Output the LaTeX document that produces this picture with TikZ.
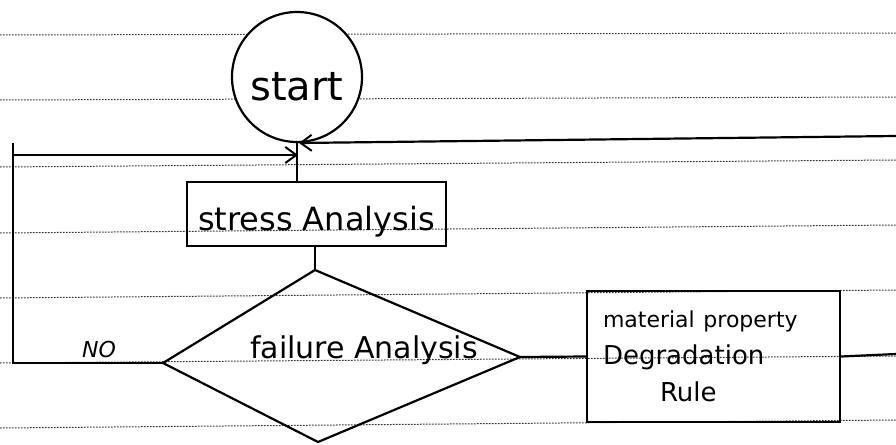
\documentclass[tikz,border=0pt]{standalone}
\usepackage{fontspec}
\setmainfont{DejaVu Sans}
\usetikzlibrary{arrows.meta}
\begin{document}
\begin{tikzpicture}[x=1pt,y=-1pt,
  flow/.style={line width=2.2pt, black},
  ruled/.style={line width=1pt, black!80, dash pattern=on 1.6pt off 1.4pt},
  proc/.style={draw, line width=2.2pt, rectangle, inner sep=0pt},
  barb/.style={-{Straight Barb[length=11pt,width=16pt,line width=2pt]}},
]
\useasboundingbox (0,0) rectangle (896,444);
\fill[white] (0,0) rectangle (896,444);

% ruled lines of the sheet
\foreach \a/\b in {35/33,100/97,167/160,233/225,298/290,363/356,428/420}
  \draw[ruled] (0,\a) -- (896,\b);

% start terminal
\node[draw, circle, line width=2.2pt, fill=white, minimum size=130pt, inner sep=0pt,
      font=\fontsize{40}{40}\selectfont, text height=46pt, text depth=0pt] (start) at (297,77) {start};

% stress analysis step
\node[proc, minimum width=259pt, minimum height=64pt,
      font=\fontsize{32}{32}\selectfont, text height=32pt, text depth=0pt] (stress) at (316.5,214) {stress Analysis};

% failure analysis decision
\coordinate (dt) at (315,270);
\coordinate (dr) at (520,357);
\coordinate (db) at (318,442);
\coordinate (dl) at (163,363);
\draw[flow, line join=miter] (dt) -- (dr) -- (db) -- (dl) -- cycle;
\node[font=\fontsize{30}{30}\selectfont, anchor=base, inner sep=0pt] (failtxt) at (364,358) {failure Analysis};

% degradation rule step
\node[proc, minimum width=253pt, minimum height=131pt, text width=221pt, align=left,
      font=\fontsize{26}{37}\selectfont] (mat) at (713.5,356.5)
  {{\fontsize{22}{37}\selectfont material property}\\Degradation\\\hspace*{57pt}Rule};

% "NO" branch label
\node[font=\fontsize{22}{22}\selectfont\itshape, anchor=base, inner sep=0pt] (no) at (99,357) {NO};

% junctions and loose ends
\coordinate (j1) at (298,155);
\coordinate (j2) at (299,143);
\coordinate (lt) at (13,155);
\coordinate (ltop) at (13,143);
\coordinate (rt) at (896,136);
\coordinate (re) at (896,354);

% connectors
\draw[flow] (start.south) -- (start.south |- stress.north);
\draw[flow] (dt |- stress.south) -- (dt);
\draw[flow] (dr) -- (mat.west);
\draw[flow] (mat.east) -- (re);
\draw[flow] (dl) -| (ltop);
\draw[flow, barb] (lt) -- (j1);
\draw[flow, barb] (rt) -- (j2);
\end{tikzpicture}
\end{document}
